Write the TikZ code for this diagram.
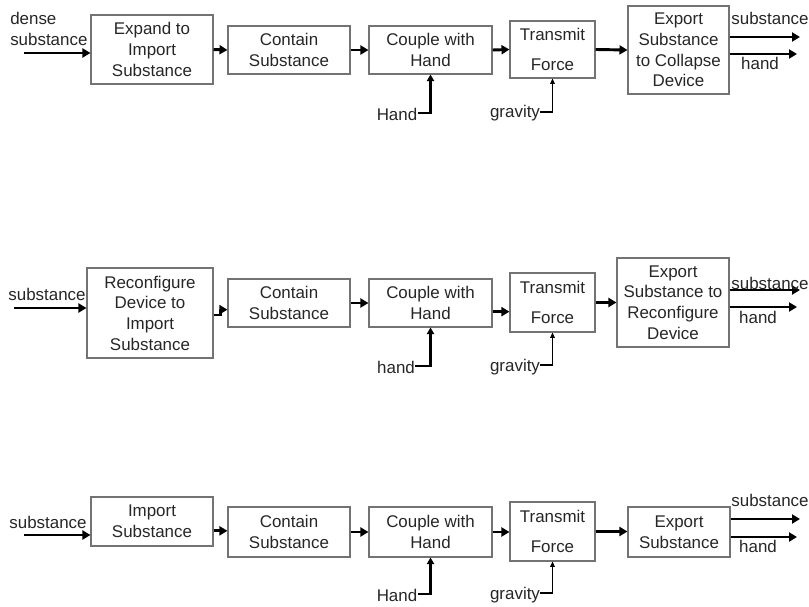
\documentclass[tikz,border=0pt]{standalone}
\usepackage{fontspec}
\setmainfont{Liberation Sans}
\usetikzlibrary{arrows.meta}
\begin{document}
\begin{tikzpicture}[x=0.75pt,y=-0.75pt,
  box/.style={draw=black!55, line width=0.8pt, inner sep=0pt, align=center,
    text=black!85, font=\fontsize{12.7}{15.5}\selectfont,
    execute at begin node={\rule{0pt}{13pt}}},
  lbl/.style={inner sep=0pt, text=black!85, font=\fontsize{12.7}{15.5}\selectfont},
  flow/.style={line width=2.2pt, -{Triangle[length=6pt,width=6.75pt]}},
  feed/.style={line width=2pt, -{Triangle[length=5pt,width=5.5pt]}},
  thinflow/.style={line width=0.8pt, -{Triangle[length=4pt,width=3.5pt]}},
  sz/.style 2 args={minimum width=#1, minimum height=#2},
]
\useasboundingbox (0,0) rectangle (809,606);

% ---------- first chain: collapsing device ----------
\node[box, sz={91.5pt}{51.75pt}]  (a1) at (152,49.5)   {Expand to\\Import\\Substance};
\node[box, sz={91.5pt}{36pt}]     (a2) at (289,50)     {Contain\\Substance};
\node[box, sz={92.25pt}{36pt}]    (a3) at (430.5,50)   {Couple with\\Hand};
\node[box, sz={63.75pt}{42.75pt}] (a4) at (552.5,49.5) {Transmit\\[7pt]Force};
\node[box, sz={75.75pt}{66pt}]    (a5) at (678.5,50)   {Export\\Substance\\to Collapse\\Device};

\node[lbl, align=left, anchor=west] (ain) at (10,29) {dense\\substance};
\coordinate (ast) at (24,53);
\draw[flow] (ast) -- (ast -| a1.west);
\draw[flow] (a1.east) -- (a2.west);
\draw[flow] (a2.east) -- (a3.west);
\draw[flow] (a3.east) -- (a4.west);
\draw[flow] (a4.east) -- (a5.west);

\coordinate (aso) at (800,37);
\coordinate (aho) at (797,54);
\draw[flow] (aso -| a5.east) -- (aso);
\draw[flow] (aho -| a5.east) -- (aho);
\node[lbl] (asl) at (770,18) {substance};
\node[lbl] (ahl) at (760,63) {hand};

\node[lbl] (ahand) at (397,114) {Hand};
\draw[feed] (ahand.east) ++(0,-1) -| (a3.south);
\node[lbl] (agrav) at (515,113) {gravity};
\draw[thinflow] (agrav.east) ++(0,-1) -| (a4.south);

% ---------- second chain: reconfigurable device ----------
\node[box, sz={94.5pt}{67.5pt}]   (b1) at (150,313)    {Reconfigure\\Device to\\Import\\Substance};
\node[box, sz={91.5pt}{36pt}]     (b2) at (289,303)    {Contain\\Substance};
\node[box, sz={92.25pt}{36pt}]    (b3) at (430.5,303)  {Couple with\\Hand};
\node[box, sz={63.75pt}{44.25pt}] (b4) at (552.5,302.5) {Transmit\\[7pt]Force};
\node[box, sz={84pt}{66.75pt}]    (b5) at (673,302.5)  {Export\\Substance to\\Reconfigure\\Device};

\node[lbl] (bin) at (47,294) {substance};
\coordinate (bst) at (14,308);
\draw[flow] (bst) -- (bst -| b1.west);
\draw[flow] ([yshift=-1.5pt]b1.east) -- ++(7,0) |- ([yshift=-5pt]b2.west);
\draw[flow] (b2.east) -- (b3.west);
\draw[flow] ([yshift=-6.5pt]b3.east) -- ([yshift=-6.5pt]b3.east -| b4.west);
\draw[flow] (b4.east) -- (b4.east -| b5.west);

\coordinate (bso) at (800,290);
\coordinate (bho) at (797,307);
\draw[flow] (bso -| b5.east) -- (bso);
\draw[flow] (bho -| b5.east) -- (bho);
\node[lbl] (bsl) at (770,283) {substance};
\node[lbl] (bhl) at (758,317) {hand};

\node[lbl] (bhand) at (396,367) {hand};
\draw[feed] (bhand.east) ++(0,-1) -| (b3.south);
\node[lbl] (bgrav) at (515,367) {gravity};
\draw[thinflow] (bgrav.east) ++(0,-2) -| (b4.south);

% ---------- third chain: plain device ----------
\node[box, sz={91.5pt}{36.75pt}]  (c1) at (152,521.5)  {Import\\Substance};
\node[box, sz={91.5pt}{37.5pt}]   (c2) at (289,532)    {Contain\\Substance};
\node[box, sz={92.25pt}{37.5pt}]  (c3) at (430.5,532)  {Couple with\\Hand};
\node[box, sz={63.75pt}{44.25pt}] (c4) at (552.5,531.5) {Transmit\\[7pt]Force};
\node[box, sz={76.5pt}{37.5pt}]   (c5) at (679,532)    {Export\\Substance};

\node[lbl] (cin) at (48,522) {substance};
\coordinate (cst) at (24,535);
\draw[flow] (cst) -- (cst -| c1.west);
\draw[flow] ([yshift=-7pt]c1.east) -- ([yshift=-7pt]c1.east -| c2.west);
\draw[flow] (c2.east) -- (c3.west);
\draw[flow] (c3.east) -- (c3.east -| c4.west);
\draw[flow] (c4.east) -- (c4.east -| c5.west);

\coordinate (cso) at (800,519);
\coordinate (cho) at (797,537);
\draw[flow] (cso -| c5.east) -- (cso);
\draw[flow] (cho -| c5.east) -- (cho);
\node[lbl] (csl) at (770,500) {substance};
\node[lbl] (chl) at (758,546) {hand};

\node[lbl] (chand) at (397,595) {Hand};
\draw[feed] (chand.east) ++(0,-1) -| (c3.south);
\node[lbl] (cgrav) at (515,595) {gravity};
\draw[thinflow] (cgrav.east) ++(0,-2) -| (c4.south);
\end{tikzpicture}
\end{document}
